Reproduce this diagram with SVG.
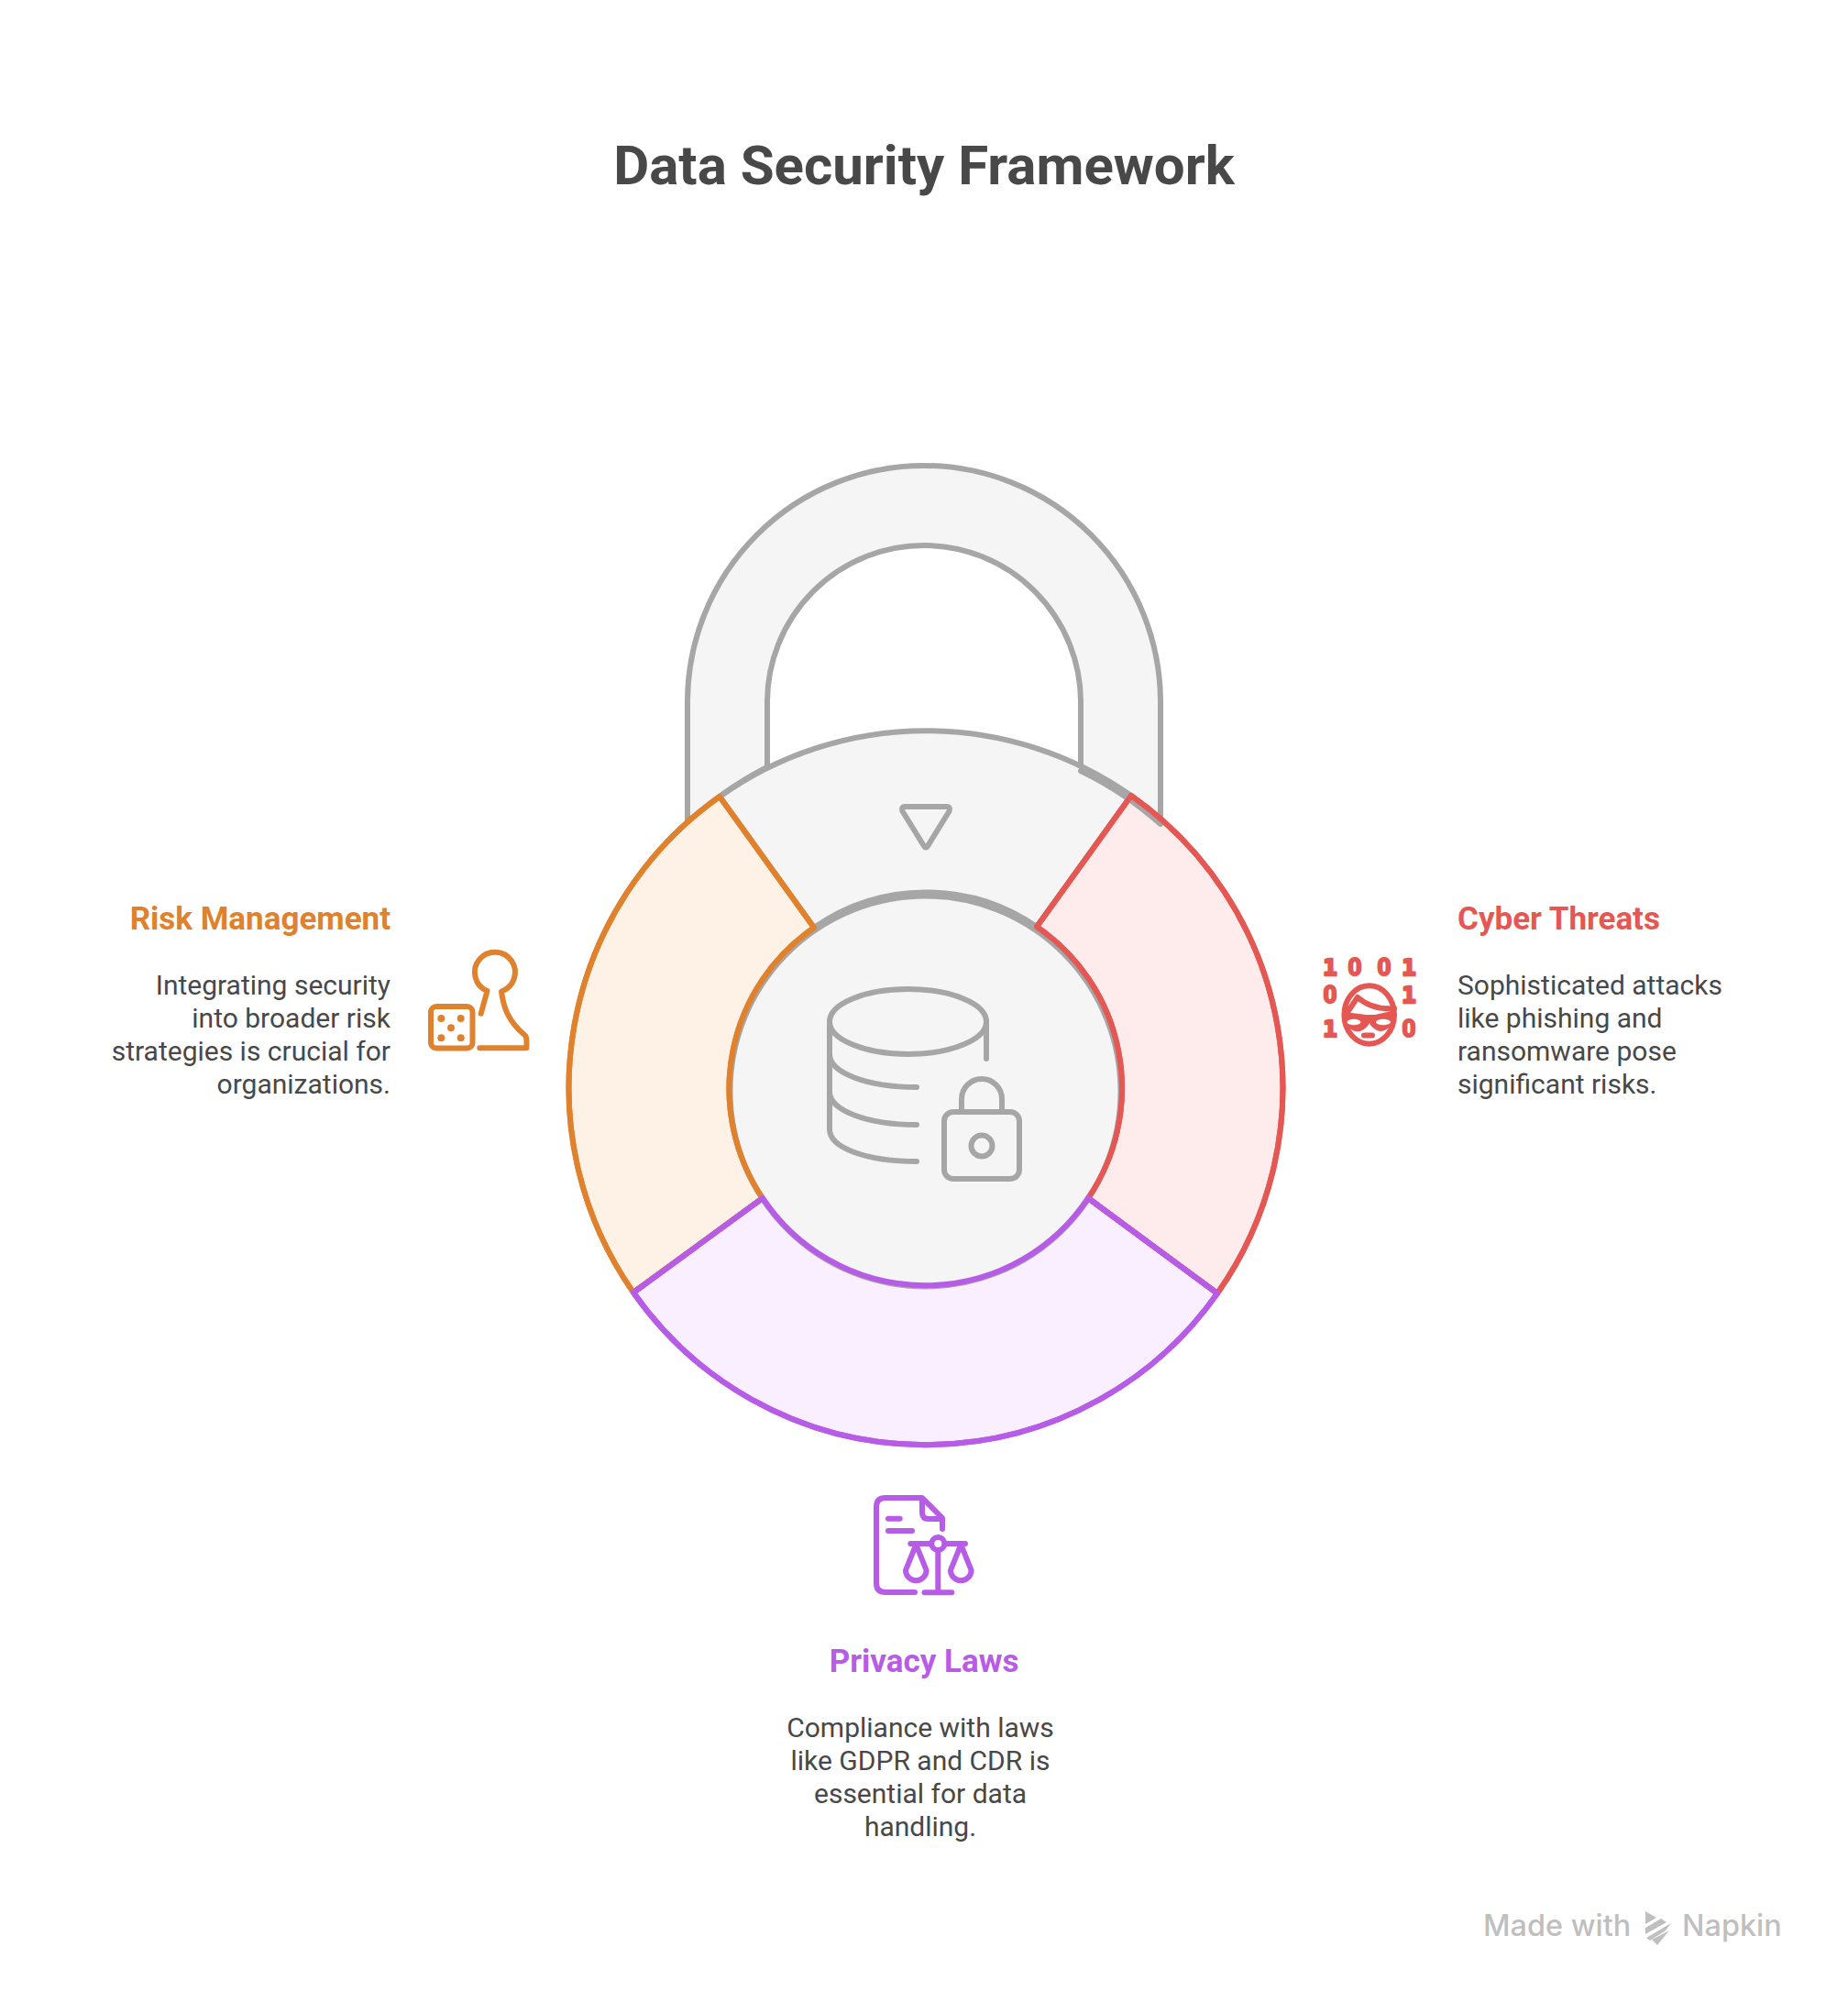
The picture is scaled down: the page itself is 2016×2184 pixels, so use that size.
<svg xmlns="http://www.w3.org/2000/svg" width="2016" height="2184" viewBox="0 0 2016 2184">
<style>
text{font-family:Roboto,"Liberation Sans",sans-serif}
.title{font-size:60px;font-weight:700;fill:#484848;text-anchor:middle}
.head{font-size:35px;font-weight:700}
.body{font-size:30px;fill:#484848}
.shape{stroke-width:6;stroke-linejoin:round;stroke-linecap:round}
.grey{fill:#F5F5F5;stroke:#A6A6A6}
.orange{fill:#FEF2E6;stroke:#E0822D}
.red{fill:#FEECEC;stroke:#E55753}
.purple{fill:#F9EFFE;stroke:#B75CE6}
.ico{fill:none;stroke-width:6;stroke-linecap:round;stroke-linejoin:round}
.bin{font-family:"DejaVu Sans Mono",monospace;font-size:25.6px;font-weight:700;fill:#E55753;stroke:#E55753;stroke-width:2.5px;stroke-linejoin:round;text-anchor:middle}
.zero{font-family:Roboto,sans-serif;font-size:26px;stroke-width:2px}
</style>
<defs>
<path id="seg-risk" d="M785,869A389,389 0 0 0 691,1410L832,1307A213,213 0 0 1 888,1012Z"/>
<path id="seg-cyber" d="M1234,868A389,389 0 0 1 1328,1411L1187,1307A213,213 0 0 0 1131,1011Z"/>
<path id="seg-privacy" d="M691,1410A389,389 0 0 0 1328,1411L1187,1307A213,213 0 0 1 832,1307Z"/>
</defs>
<rect width="2016" height="2184" fill="#FFFFFF"/>
<text class="title" x="1008" y="201">Data Security Framework</text>
<g id="lock">
<path class="shape grey" d="M750,898V766A258,258 0 0 1 1266,766V899A384,384 0 0 0 1179,841V766A171,171 0 0 0 837,766V837A390,390 0 0 0 750,898Z"/>
<path class="shape grey" d="M785,869A389,389 0 0 1 1234,868L1131,1011A213,213 0 0 0 888,1012Z"/>
<path fill="none" stroke="#A6A6A6" stroke-width="6" stroke-linejoin="round" d="M987,880H1033Q1037,880 1035.5,885L1012,923Q1010,926 1008,923L984.5,885Q983,880 987,880Z"/>
</g>
<g id="segment-fills">
<use href="#seg-risk" class="shape orange"/>
<use href="#seg-cyber" class="shape red"/>
<use href="#seg-privacy" class="shape purple"/>
</g>
<g id="hub">
<circle class="shape grey" cx="1009.5" cy="1190.5" r="213"/>
<path fill="none" stroke="#A6A6A6" stroke-width="6" stroke-linecap="round" d="M1179,841A384,384 0 0 1 1266,899M837,837A390,390 0 0 0 785,869"/>
</g>
<g id="risk-segment"><use href="#seg-risk" class="shape" fill="none" stroke="#E0822D"/></g>
<g id="cyber-segment"><use href="#seg-cyber" class="shape" fill="none" stroke="#E55753"/></g>
<g id="privacy-segment"><use href="#seg-privacy" class="shape" fill="none" stroke="#B75CE6"/></g>
<g id="database-icon" class="ico" stroke="#A6A6A6">
<ellipse cx="990.5" cy="1114.5" rx="85.5" ry="35.5"/>
<path d="M1076,1114V1155M905,1114V1232C905,1252 945,1267 1000,1267M905,1150C905,1170 945,1186 1000,1186M905,1191C905,1211 945,1227 1000,1227"/>
<rect x="1030" y="1213" width="82" height="73" rx="10"/>
<path d="M1049,1213V1199A22,22 0 0 1 1093,1199V1213"/>
<circle cx="1071" cy="1250" r="11.5"/>
</g>
<g id="risk-management">
<text class="head" x="426" y="1013.5" text-anchor="end" fill="#E0822D">Risk Management</text>
<text class="body" x="426" y="1085" text-anchor="end">Integrating security</text>
<text class="body" x="426" y="1121" text-anchor="end">into broader risk</text>
<text class="body" x="426" y="1157" text-anchor="end">strategies is crucial for</text>
<text class="body" x="426" y="1193" text-anchor="end">organizations.</text>
<g class="ico" stroke="#E0822D">
<rect x="470" y="1098" width="45.5" height="45.5" rx="6"/>
<path d="M524.7,1105.7L531.5,1081A22,22 0 1 1 547,1081.5C549,1097 553,1113 573.3,1130Q575,1133 574.3,1143.3H523.3"/>
</g>
<g fill="#E0822D"><circle cx="481.3" cy="1111" r="4"/><circle cx="502.7" cy="1111" r="4"/><circle cx="492" cy="1121.3" r="4"/><circle cx="481.3" cy="1132.3" r="4"/><circle cx="502.7" cy="1132.3" r="4"/></g>
</g>
<g id="cyber-threats">
<text class="head" x="1590" y="1013.5" fill="#E55753">Cyber Threats</text>
<text class="body" x="1590" y="1085">Sophisticated attacks</text>
<text class="body" x="1590" y="1121">like phishing and</text>
<text class="body" x="1590" y="1157">ransomware pose</text>
<text class="body" x="1590" y="1193">significant risks.</text>
<text class="bin" x="1451" y="1064">1</text><text class="bin zero" x="1478" y="1064">0</text><text class="bin zero" x="1510" y="1064">0</text><text class="bin" x="1537" y="1064">1</text>
<text class="bin zero" x="1451" y="1094">0</text><text class="bin" x="1537" y="1094">1</text>
<text class="bin" x="1451" y="1131">1</text><text class="bin zero" x="1537" y="1131">0</text>
<g class="ico" stroke="#E55753">
<ellipse cx="1493.7" cy="1107" rx="27.3" ry="31.7"/>
<path d="M1470,1104L1481,1088Q1497,1102 1521,1100"/>
<path d="M1488,1129.5H1497" stroke-width="6"/>
</g>
<path fill="#E55753" d="M1467,1104L1490,1107L1500,1107L1522,1102L1520,1115Q1512,1128 1502,1124Q1495,1120 1494,1116Q1491,1122 1484,1125Q1474,1127 1468,1116Z"/>
<ellipse cx="1477" cy="1115" rx="7.5" ry="3.2" fill="#FFFFFF"/>
<ellipse cx="1509" cy="1115" rx="8" ry="3.2" fill="#FFFFFF"/>
</g>
<g id="privacy-laws">
<text class="head" x="1008" y="1823.5" text-anchor="middle" fill="#B75CE6">Privacy Laws</text>
<text class="body" x="1004" y="1895" text-anchor="middle">Compliance with laws</text>
<text class="body" x="1004" y="1931" text-anchor="middle">like GDPR and CDR is</text>
<text class="body" x="1004" y="1967" text-anchor="middle">essential for data</text>
<text class="body" x="1004" y="2003" text-anchor="middle">handling.</text>
<g class="ico" stroke="#B75CE6">
<path d="M998,1737H966Q956,1737 956,1727V1644Q956,1634 966,1634H1006L1028,1656V1668M1006,1636V1650Q1006,1657 1013,1657H1027"/>
<path d="M969,1656.7H981.7M969,1670H995M993.3,1684H1016M1031,1684H1053M1023.3,1691V1737.3M1008.5,1737.3H1038.3"/>
<circle cx="1023.3" cy="1684" r="7"/>
<path d="M999.3,1685L988,1713A11.3,11.3 0 0 0 1010.6,1713ZM1048.3,1685L1037,1713A11.3,11.3 0 0 0 1059.6,1713Z"/>
</g>
</g>
<g id="watermark" fill="#BFBFBF">
<text x="1618" y="2112" font-size="32.4" style="font-family:Inter,Roboto,sans-serif;font-weight:500">Made with</text>
<text x="1835" y="2112" font-size="32.4" style="font-family:Inter,Roboto,sans-serif;font-weight:500">Napkin</text>
<polygon points="1795,2085 1807,2092 1795,2099"/>
<polygon points="1795,2103 1812,2093 1818,2097 1795,2110"/>
<polygon points="1796,2114 1823,2098 1817,2106 1800,2117"/>
<polygon points="1802,2116 1821,2106 1808,2122"/>
</g>
</svg>
